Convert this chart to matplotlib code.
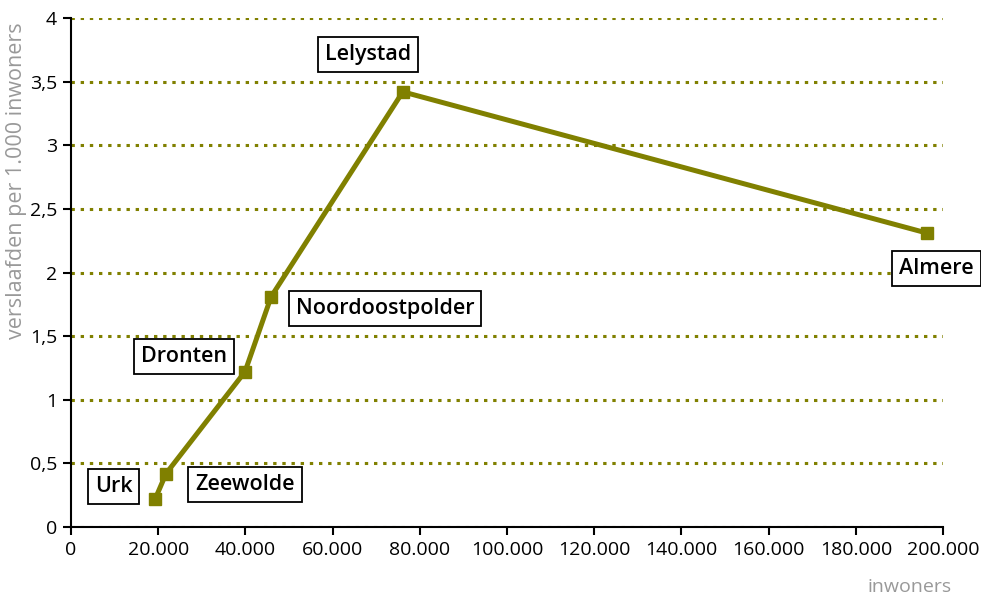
import matplotlib
matplotlib.use("Agg")
import matplotlib.pyplot as plt
from matplotlib.ticker import FuncFormatter, MultipleLocator

plt.rcParams['font.family'] = ['Open Sans', 'DejaVu Sans']

# Gemeenten in Flevoland: inwoners en verslaafden per 1.000 inwoners
gemeenten = ["Urk", "Zeewolde", "Dronten", "Noordoostpolder", "Lelystad", "Almere"]
inwoners = [19300, 21800, 39900, 45900, 76100, 196300]
verslaafden = [0.22, 0.42, 1.22, 1.81, 3.42, 2.31]

# label offsets in points (dx, dy) relative to each data point
label_offsets = {
    "Urk": (-30, 9),
    "Zeewolde": (57, -8),
    "Dronten": (-44, 11),
    "Noordoostpolder": (82, -8.5),
    "Lelystad": (-25, 27),
    "Almere": (7, -25.5),
}

olive = "#808000"
fs = 14

fig = plt.figure(figsize=(9.81, 5.97), dpi=100)
ax = fig.add_axes([0.0724, 0.1173, 0.8889, 0.8525])

ax.plot(inwoners, verslaafden, color=olive, lw=3.6, marker="s", ms=8,
        markerfacecolor=olive, markeredgecolor=olive, zorder=3, clip_on=False)

for naam, x, y in zip(gemeenten, inwoners, verslaafden):
    dx, dy = label_offsets[naam]
    ax.annotate(naam, (x, y), xytext=(dx, dy), textcoords="offset points",
                ha="center", va="center", fontsize=15.5, fontweight="semibold",
                bbox=dict(boxstyle="square,pad=0.33", fc="white", ec="black", lw=1.3),
                zorder=4)

ax.set_xlim(0, 200000)
ax.set_ylim(0, 4)
ax.xaxis.set_major_locator(MultipleLocator(20000))
ax.yaxis.set_major_locator(MultipleLocator(0.5))
ax.xaxis.set_major_formatter(FuncFormatter(lambda v, p: f"{int(v):,}".replace(",", ".")))
ax.yaxis.set_major_formatter(FuncFormatter(lambda v, p: f"{v:g}".replace(".", ",")))

ax.grid(axis="y", color=olive, linestyle=(0, (1.1, 1.9)), lw=2.2)
ax.set_axisbelow(True)
ax.spines["top"].set_visible(False)
ax.spines["right"].set_visible(False)
for s in ("left", "bottom"):
    ax.spines[s].set_linewidth(1.5)
ax.tick_params(direction="out", length=6, width=1.5, labelsize=fs, pad=4)

ax.set_ylabel("verslaafden per 1.000 inwoners", color="#999999", fontsize=15.5)
ax.yaxis.set_label_coords(-0.050, 0.68)
ax.set_xlabel("inwoners", color="#999999", fontsize=fs)
ax.xaxis.set_label_coords(0.962, -0.10)

fig.savefig("out.png", dpi=100)
